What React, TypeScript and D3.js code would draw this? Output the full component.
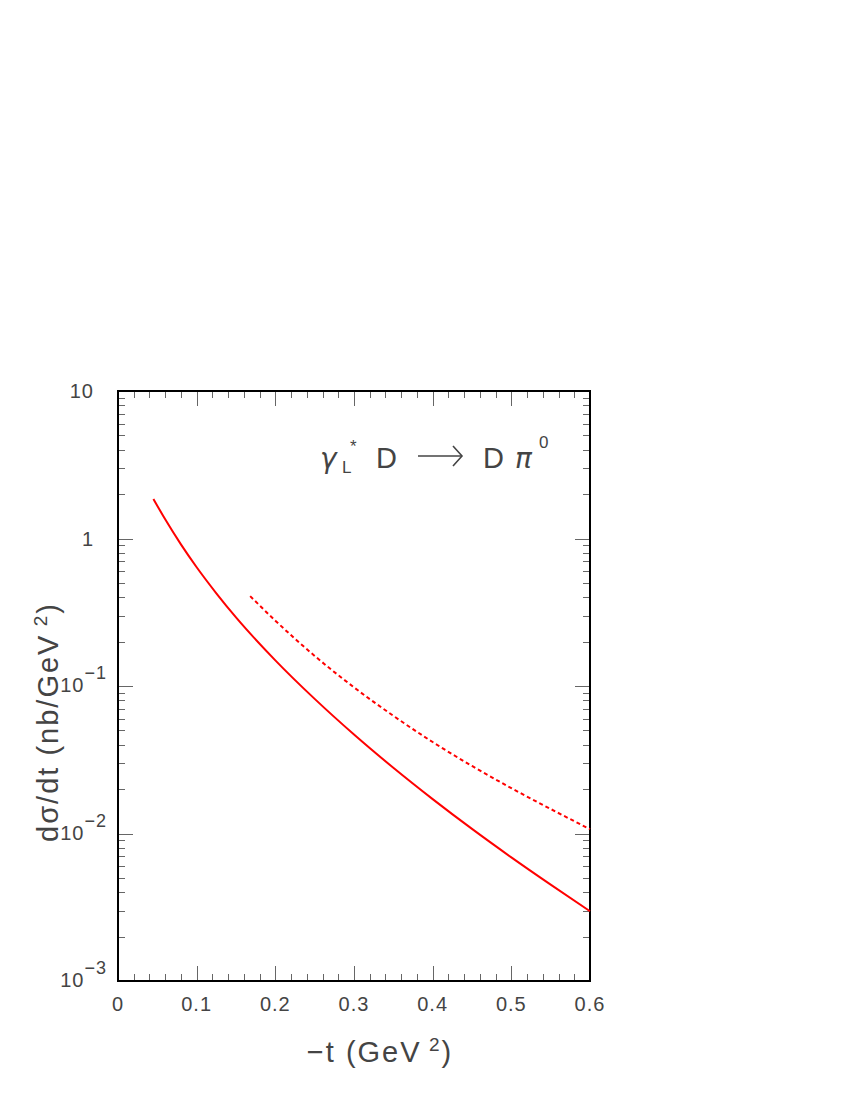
import React from 'react';
import * as d3 from 'd3';

// -t values (GeV^2) and dsigma/dt (nb/GeV^2)
const tSolid = [0.045, 0.06, 0.08, 0.1, 0.125, 0.15, 0.2, 0.25, 0.3, 0.35, 0.4, 0.45, 0.5, 0.55, 0.6];
const sigmaSolid = [1.854, 1.349, 0.912, 0.638, 0.425, 0.2917, 0.1493, 0.0818, 0.0469, 0.0279, 0.0171, 0.01074, 0.00689, 0.0045, 0.00297];

const tDashed = [0.168, 0.2, 0.25, 0.3, 0.35, 0.4, 0.45, 0.5, 0.55, 0.6];
const sigmaDashed = [0.407, 0.2773, 0.16, 0.0979, 0.0628, 0.0417, 0.0287, 0.0203, 0.01466, 0.01069];

const xTickLabels = ['0', '0.1', '0.2', '0.3', '0.4', '0.5', '0.6'];
const yDecades = [0.001, 0.01, 0.1, 1, 10];

const WIDTH = 850;
const HEIGHT = 1100;
const left = 118, right = 590, top = 391, bottom = 981;
const textColor = '#444';
const font = "'Liberation Sans', 'DejaVu Sans', sans-serif";
const greek = "'DejaVu Sans', sans-serif";

export default function App() {
  const x = d3.scaleLinear().domain([0, 0.6]).range([left, right]);
  const y = d3.scaleLog().domain([0.001, 10]).range([bottom, top]);

  const line = d3.line<[number, number]>()
    .x(d => x(d[0]))
    .y(d => y(d[1]))
    .curve(d3.curveMonotoneX);

  const solid = tSolid.map((t, i) => [t, sigmaSolid[i]] as [number, number]);
  const dashed = tDashed.map((t, i) => [t, sigmaDashed[i]] as [number, number]);

  const xMajor = xTickLabels.map(Number);
  const xMinor = d3.range(0, 0.6001, 0.02).filter(v => Math.abs(v * 10 - Math.round(v * 10)) > 1e-6);
  const yMinor: number[] = [];
  yDecades.slice(0, -1).forEach(d => {
    for (let k = 2; k <= 9; k++) yMinor.push(d * k);
  });

  const tickStroke = '#666';
  const px = (v: number) => Math.round(v) + 0.5;

  // arrow of the process label
  const ay = 456, ax0 = 418, ax1 = 462;

  return (
    <svg width={WIDTH} height={HEIGHT} style={{ position: 'absolute', left: 0, top: 0, background: '#fff' }}>
      {/* x ticks, bottom and top */}
      {xMajor.map((v, i) => (
        <g key={'xM' + i}>
          <line x1={px(x(v))} x2={px(x(v))} y1={bottom} y2={bottom - 15} stroke={tickStroke} />
          <line x1={px(x(v))} x2={px(x(v))} y1={top} y2={top + 15} stroke={tickStroke} />
        </g>
      ))}
      {xMinor.map((v, i) => (
        <g key={'xm' + i}>
          <line x1={px(x(v))} x2={px(x(v))} y1={bottom} y2={bottom - 7} stroke={tickStroke} />
          <line x1={px(x(v))} x2={px(x(v))} y1={top} y2={top + 7} stroke={tickStroke} />
        </g>
      ))}
      {/* y ticks, left and right */}
      {yDecades.map((v, i) => (
        <g key={'yM' + i}>
          <line x1={left} x2={left + 15} y1={px(y(v))} y2={px(y(v))} stroke={tickStroke} />
          <line x1={right} x2={right - 15} y1={px(y(v))} y2={px(y(v))} stroke={tickStroke} />
        </g>
      ))}
      {yMinor.map((v, i) => (
        <g key={'ym' + i}>
          <line x1={left} x2={left + 7} y1={px(y(v))} y2={px(y(v))} stroke={tickStroke} />
          <line x1={right} x2={right - 7} y1={px(y(v))} y2={px(y(v))} stroke={tickStroke} />
        </g>
      ))}

      {/* frame */}
      <rect x={left} y={top} width={right - left} height={bottom - top} fill="none" stroke="#000" strokeWidth={2} />

      {/* curves */}
      <path d={line(solid) || ''} fill="none" stroke="#ff0000" strokeWidth={2} />
      <path d={line(dashed) || ''} fill="none" stroke="#ff0000" strokeWidth={2} strokeDasharray="4,3" />

      {/* x tick labels */}
      {xTickLabels.map((s, i) => (
        <text key={'xl' + i} x={x(xMajor[i])} y={1011} textAnchor="middle" fontFamily={font} fontSize={20} letterSpacing={1} fill={textColor}>{s}</text>
      ))}

      {/* y tick labels */}
      <text x={94} y={y(10) + 7} textAnchor="end" fontFamily={font} fontSize={20} letterSpacing={1} fill={textColor}>10</text>
      <text x={93} y={y(1) + 7} textAnchor="end" fontFamily={font} fontSize={20} fill={textColor}>1</text>
      {[0.1, 0.01, 0.001].map((v, i) => (
        <text key={'yl' + i} x={107} y={y(v) + 6} textAnchor="end" fontFamily={font} fontSize={20} letterSpacing={1} fill={textColor}>
          10<tspan dy={-13} fontSize={18}>{'\u2212' + (i + 1)}</tspan>
        </text>
      ))}

      {/* axis titles */}
      <text x={380} y={1062} textAnchor="middle" fontFamily={font} fontSize={29} letterSpacing={2} fill={textColor}>
        {'\u2212t (GeV'}<tspan dy={-11} fontSize={19}>{' 2'}</tspan><tspan dy={11}>)</tspan>
      </text>
      <text transform={`translate(58,${(top + bottom) / 2 + 36}) rotate(-90)`} textAnchor="middle" fontFamily={font} fontSize={29} letterSpacing={2} fill={textColor}>
        {'d\u03c3/dt (nb/GeV'}<tspan dy={-11} fontSize={19}>{' 2'}</tspan><tspan dy={11}>)</tspan>
      </text>

      {/* process label */}
      <g fontFamily={font} fill={textColor}>
        <text x={320} y={468} fontSize={28} fontStyle="italic" fontFamily={greek}>{'\u03b3'}</text>
        <text x={342} y={473} fontSize={17}>L</text>
        <text x={350} y={452} fontSize={17}>*</text>
        <text x={376} y={468} fontSize={29}>D</text>
        <text x={483} y={468} fontSize={29}>D</text>
        <text x={515} y={468} fontSize={28} fontStyle="italic" fontFamily={greek}>{'\u03c0'}</text>
        <text x={539} y={448} fontSize={17}>0</text>
      </g>
      <g stroke={textColor} strokeWidth={1.6} fill="none">
        <line x1={ax0} x2={ax1} y1={ay} y2={ay} />
        <polyline points={`${ax1 - 9},${ay - 10} ${ax1},${ay} ${ax1 - 9},${ay + 10}`} />
      </g>
    </svg>
  );
}
